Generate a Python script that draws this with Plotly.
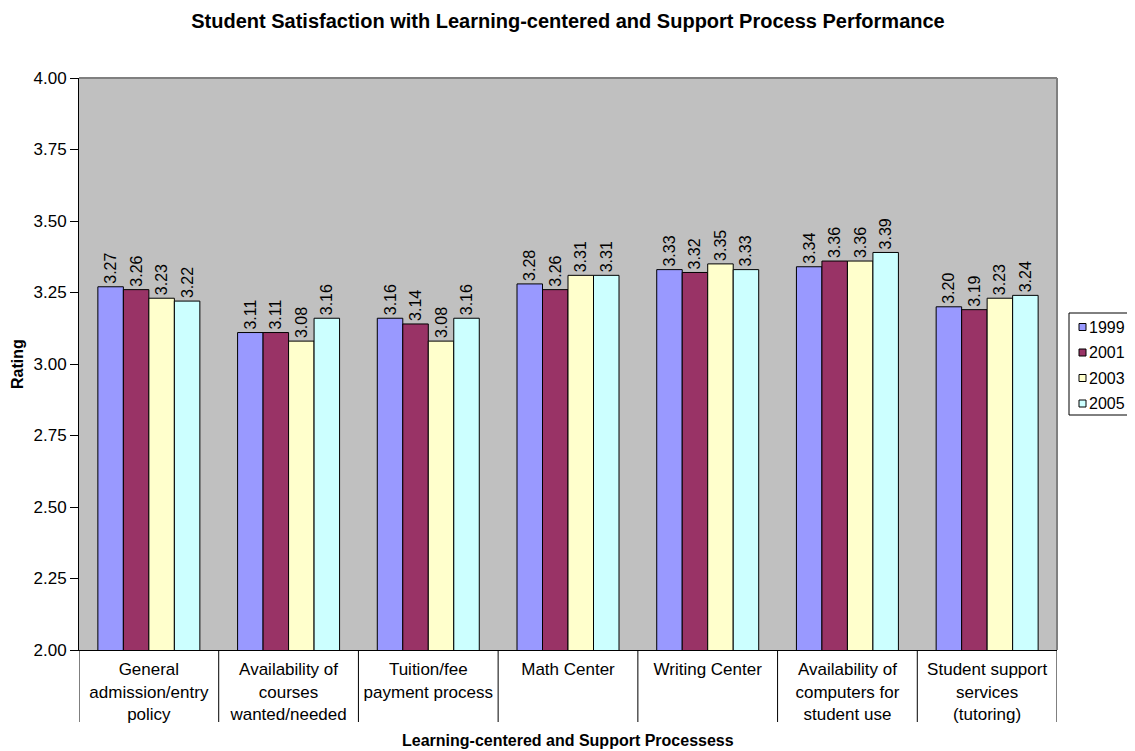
import plotly.graph_objects as go

categories = [
    "General<br>admission/entry<br>policy",
    "Availability of<br>courses<br>wanted/needed",
    "Tuition/fee<br>payment process",
    "Math Center",
    "Writing Center",
    "Availability of<br>computers for<br>student use",
    "Student support<br>services<br>(tutoring)",
]
years = ["1999", "2001", "2003", "2005"]
v1999 = [3.27, 3.11, 3.16, 3.28, 3.33, 3.34, 3.20]
v2001 = [3.26, 3.11, 3.14, 3.26, 3.32, 3.36, 3.19]
v2003 = [3.23, 3.08, 3.08, 3.31, 3.35, 3.36, 3.23]
v2005 = [3.22, 3.16, 3.16, 3.31, 3.33, 3.39, 3.24]
series = [v1999, v2001, v2003, v2005]
colors = ["#9999FF", "#993366", "#FFFFCC", "#CCFFFF"]

# page has an 8px body margin; figure sized to fit the window
OFF = 8
W, H = 1135 - OFF, 751 - OFF
L, T = 79 - OFF, 78 - OFF
R = (W + OFF) - 1057
B = (H + OFF) - 650
PW, PH = W - L - R, H - T - B

def px(xp):   # page x -> paper x
    return (xp - OFF - L) / PW

def py(yp):   # page y -> paper y
    return (H - B - (yp - OFF)) / PH

FONT = "Arial, Liberation Sans, sans-serif"

fig = go.Figure()
for name, vals, col in zip(years, series, colors):
    fig.add_trace(go.Bar(
        x=categories, y=vals, name=name, showlegend=False,
        marker=dict(color=col, line=dict(color="black", width=1)),
        text=[f"{v:.2f}" for v in vals], textposition="outside",
        textangle=-90, constraintext="none",
        textfont=dict(family=FONT, size=16, color="black"),
        cliponaxis=False,
    ))

n = len(categories)
shapes = []
for i in range(n + 1):
    shapes.append(dict(type="line", xref="x", yref="paper", x0=i - 0.5, x1=i - 0.5,
                       y0=0, y1=py(722), line=dict(color="black", width=1)))
# plot-area border (top/right gray)
shapes.append(dict(type="line", xref="paper", yref="paper", x0=0, x1=1, y0=1, y1=1,
                   line=dict(color="#808080", width=2)))
shapes.append(dict(type="line", xref="paper", yref="paper", x0=1, x1=1, y0=0, y1=1,
                   line=dict(color="#808080", width=2)))

# manual legend
annotations = []
lx0, lx1, ly0, ly1 = 1069, 1129, 313, 415
shapes.append(dict(type="rect", xref="paper", yref="paper",
                   x0=px(lx0), x1=px(lx1), y0=py(ly1), y1=py(ly0),
                   line=dict(color="black", width=1), fillcolor="white", layer="below"))
item_y = [327, 352.5, 378, 403.5]
for name, col, yc in zip(years, colors, item_y):
    shapes.append(dict(type="rect", xref="paper", yref="paper",
                       x0=px(1079), x1=px(1086), y0=py(yc + 3.5), y1=py(yc - 3.5),
                       line=dict(color="black", width=1), fillcolor=col))
    annotations.append(dict(text=name, xref="paper", yref="paper", x=px(1087), y=py(yc),
                            xanchor="left", yanchor="middle", showarrow=False,
                            font=dict(family=FONT, size=16, color="black")))

# axis titles
annotations.append(dict(text="<b>Rating</b>", xref="paper", yref="paper",
                        x=px(17), y=0.5, textangle=-90, xanchor="center", yanchor="middle",
                        showarrow=False, font=dict(family=FONT, size=16, color="black")))
annotations.append(dict(text="<b>Learning-centered and Support Processess</b>", xref="paper",
                        yref="paper", x=0.5, y=py(740), xanchor="center", yanchor="middle",
                        showarrow=False, font=dict(family=FONT, size=16, color="black")))

fig.update_layout(
    width=W, height=H,
    margin=dict(l=L, r=R, t=T, b=B, autoexpand=False),
    paper_bgcolor="white", plot_bgcolor="#C0C0C0",
    font=dict(family=FONT, color="black"),
    title=dict(text="<b>Student Satisfaction with Learning-centered and Support Process Performance</b>",
               x=px(568), xref="paper", xanchor="center",
               y=1 - (21 - OFF) / H, yanchor="middle",
               font=dict(size=20, family=FONT, color="black")),
    barmode="group", bargap=0.27, bargroupgap=0,
    showlegend=False,
    shapes=shapes, annotations=annotations,
)
fig.update_xaxes(
    showgrid=False, showline=True, linecolor="black", linewidth=1,
    ticks="", tickfont=dict(size=17, family=FONT), automargin=False,
    ticklabelstandoff=4,
    range=[-0.5, n - 0.5],
)
fig.update_yaxes(
    range=[2, 4], dtick=0.25, tickformat=".2f", showgrid=False,
    showline=True, linecolor="black", linewidth=1,
    ticks="outside", ticklen=8, tickcolor="black", automargin=False,
    tickfont=dict(size=17, family=FONT),
)

fig.write_html("out.html")
